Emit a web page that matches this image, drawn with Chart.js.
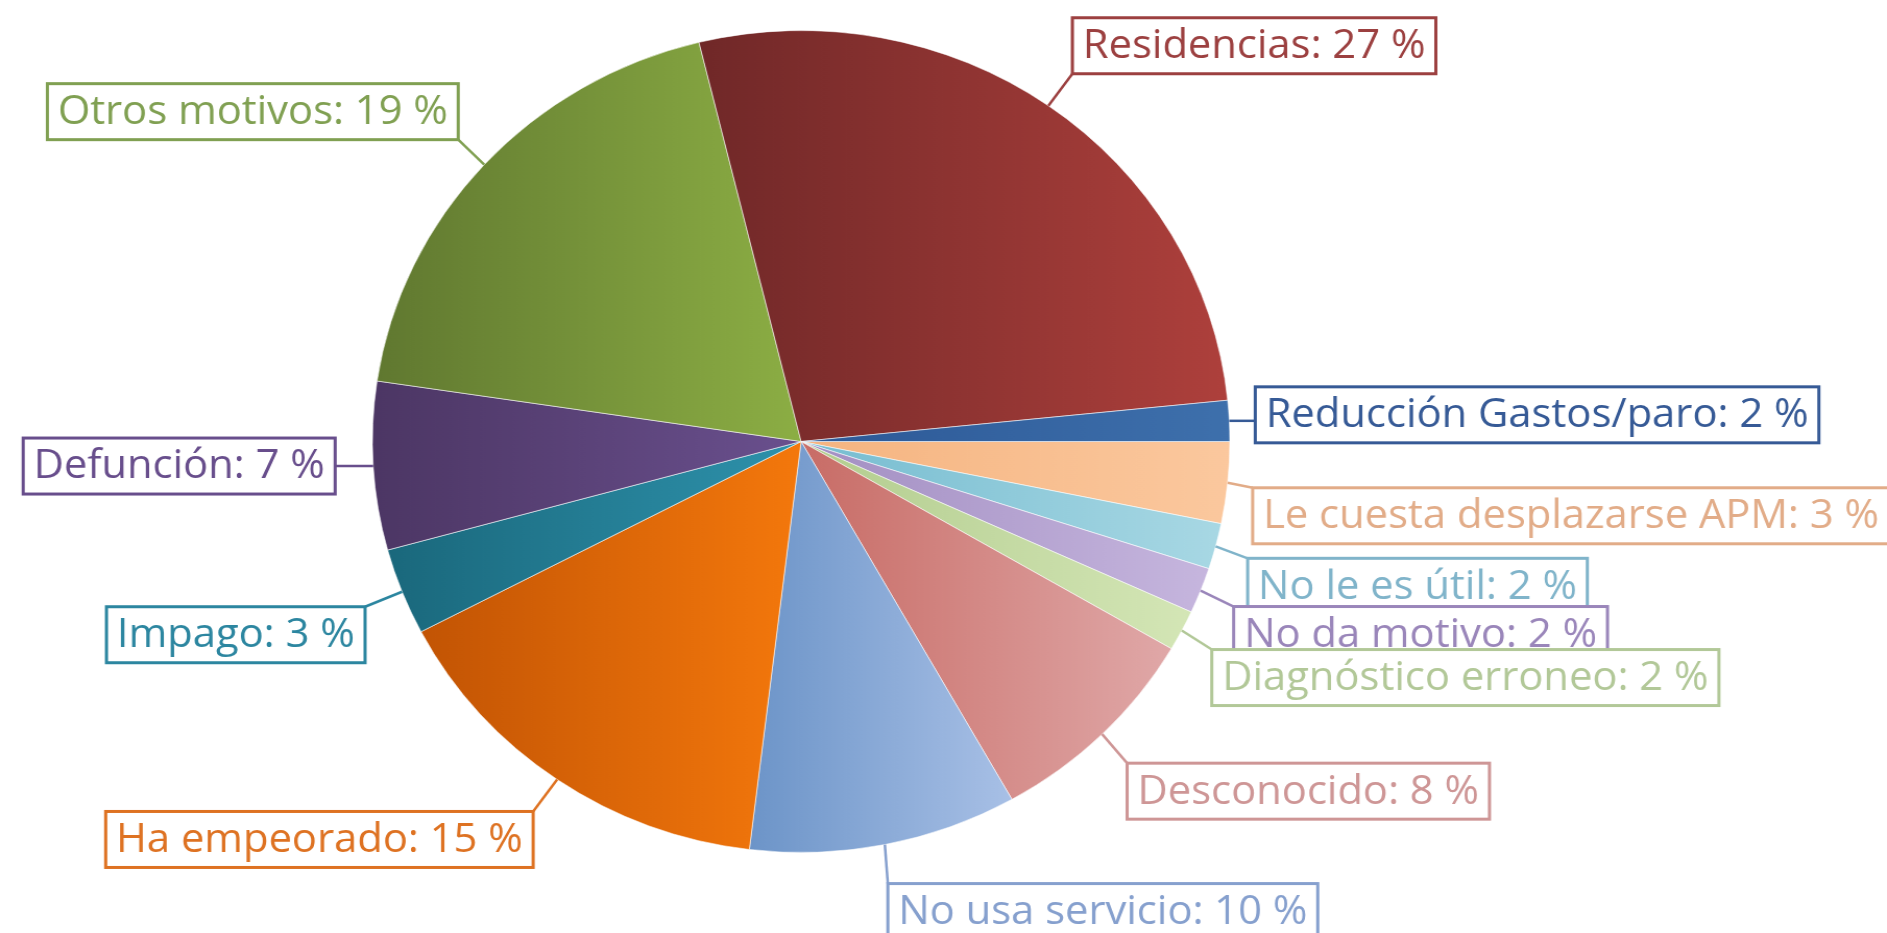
<!DOCTYPE html>
<html>
<head>
<meta charset="utf-8">
<script src="https://cdn.jsdelivr.net/npm/chart.js@4/dist/chart.umd.min.js"></script>
<style>
  html, body { margin: 0; padding: 0; background: #fff; overflow: hidden; }
  #chart { position: absolute; left: 0; top: 0; width: 1809px; height: 933px;
           transform: scaleX(1.0431); transform-origin: 0 0; }
</style>
</head>
<body>
<canvas id="chart" width="1809" height="933"></canvas>
<script>
// Data (clockwise from 3 o'clock)
const categories = [
  'Le cuesta desplazarse APM', 'No le es útil', 'No da motivo', 'Diagnóstico erroneo',
  'Desconocido', 'No usa servicio', 'Ha empeorado', 'Impago', 'Defunción',
  'Otros motivos', 'Residencias', 'Reducción Gastos/paro'
];
const shares = [3.2, 1.8, 1.8, 1.6, 8.4, 10.1, 15.4, 3.4, 6.6, 18.8, 27.2, 1.6];

// Styles
const darkColors = [
  [245,180,128], [118,188,208], [162,142,194], [178,204,142],
  [200,108,102], [108,148,200], [194,84,4], [26,104,124], [76,54,100],
  [96,120,48], [112,40,40], [44,88,150]
];
const lightColors = [
  [251,200,158], [168,216,228], [198,182,222], [212,230,182],
  [224,168,168], [168,192,230], [244,120,12], [46,146,172], [106,80,142],
  [140,174,68], [174,64,60], [62,112,172]
];
const labelColors = [
  'rgb(226,172,136)', 'rgb(128,180,202)', 'rgb(154,134,186)', 'rgb(178,200,152)',
  'rgb(206,150,150)', 'rgb(134,160,206)', 'rgb(222,114,34)', 'rgb(44,134,160)', 'rgb(104,78,140)',
  'rgb(128,160,82)', 'rgb(156,64,64)', 'rgb(54,90,150)'
];
// leader offset from slice edge to the near corner of each callout box (screen px)
const labelOffsets = [
  [25, 5], [32, 12], [33, 16], [30, 19], [25, 29], [3, 39],
  [-24, 32], [-37, 15], [-38, -28], [-26, -81], [24, -88], [26, -34]
];

const SX = 1.0431;     // horizontal stretch of the canvas
const BOX_H = 56;
const PAD_X = 10;
const FONT = '500 40px "Open Sans"';

const total = shares.reduce((a, b) => a + b, 0);

function rgb(c) { return `rgb(${c[0]},${c[1]},${c[2]})`; }

function sliceFill(ctx) {
  const chart = ctx.chart;
  const area = chart.chartArea;
  if (!area) return rgb(darkColors[ctx.dataIndex]);
  const cx = (area.left + area.right) / 2;
  const r = Math.min(area.right - area.left, area.bottom - area.top) / 2;
  const vals = chart.data.datasets[0].data;
  const sum = vals.reduce((a, b) => a + b, 0);
  let a0 = 0;
  for (let k = 0; k < ctx.dataIndex; k++) a0 += vals[k] / sum * Math.PI * 2;
  const a1 = a0 + vals[ctx.dataIndex] / sum * Math.PI * 2;
  const xs = [cx, cx + r * Math.cos(a0), cx + r * Math.cos(a1)];
  if (a0 <= Math.PI && a1 >= Math.PI) xs.push(cx - r);
  if (a1 >= Math.PI * 2 - 1e-6 || a0 <= 1e-6) xs.push(cx + r);
  const minX = Math.min(...xs), maxX = Math.max(...xs);
  const g = chart.ctx.createLinearGradient(minX, 0, maxX, 0);
  g.addColorStop(0, rgb(darkColors[ctx.dataIndex]));
  g.addColorStop(1, rgb(lightColors[ctx.dataIndex]));
  return g;
}

const calloutPlugin = {
  id: 'callouts',
  afterDraw(chart) {
    const ctx = chart.ctx;
    const meta = chart.getDatasetMeta(0);
    ctx.save();
    ctx.font = FONT;
    ctx.textBaseline = 'middle';
    meta.data.forEach((arc, i) => {
      const p = arc.getProps(['x', 'y', 'startAngle', 'endAngle', 'outerRadius'], true);
      const mid = (p.startAngle + p.endAngle) / 2;
      const ax = p.x + Math.cos(mid) * p.outerRadius;
      const ay = p.y + Math.sin(mid) * p.outerRadius;
      const pct = Math.round(shares[i] / total * 100);
      const text = categories[i] + ': ' + pct + ' %';
      const w = ctx.measureText(text).width + PAD_X * 2;
      const [odx, ody] = labelOffsets[i];
      const left = ax >= p.x ? ax + odx / SX : ax + odx / SX - w;
      const top = ay + ody;
      const col = labelColors[i];
      // leader line to the nearest point of the box
      const lx = Math.min(Math.max(ax, left), left + w);
      const ly = Math.min(Math.max(ay, top), top + BOX_H);
      ctx.strokeStyle = col;
      ctx.lineWidth = 2.5;
      ctx.beginPath();
      ctx.moveTo(ax, ay);
      ctx.lineTo(lx, ly);
      ctx.stroke();
      // box
      ctx.fillStyle = '#fff';
      ctx.fillRect(left, top, w, BOX_H);
      ctx.lineWidth = 3;
      ctx.strokeRect(left, top, w, BOX_H);
      // text
      ctx.fillStyle = col;
      ctx.fillText(text, left + PAD_X, top + BOX_H / 2 + 1);
    });
    ctx.restore();
  }
};

new Chart(document.getElementById('chart'), {
  type: 'pie',
  data: {
    labels: categories,
    datasets: [{
      data: shares,
      backgroundColor: sliceFill,
      borderColor: 'rgba(255,255,255,0.55)',
      borderWidth: 1
    }]
  },
  options: {
    responsive: false,
    animation: false,
    rotation: 90,
    layout: { padding: { left: 0, right: 273, top: 30, bottom: 80 } },
    plugins: { legend: { display: false }, tooltip: { enabled: false } }
  },
  plugins: [calloutPlugin]
});
</script>
</body>
</html>
